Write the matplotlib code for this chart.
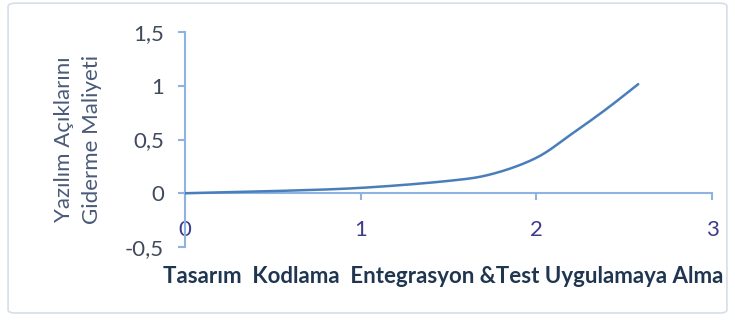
import matplotlib
matplotlib.use('Agg')
import matplotlib.pyplot as plt
from matplotlib.patches import FancyBboxPatch
from matplotlib.ticker import FuncFormatter
import numpy as np

# veri
x = [0, 0.5, 1, 1.5, 1.75, 2, 2.2, 2.4, 2.58]
y = [0, 0.02, 0.05, 0.115, 0.18, 0.33, 0.55, 0.785, 1.015]
xticks = [0, 1, 2, 3]
yticks = [-0.5, 0, 0.5, 1, 1.5]
ylabel = 'Yazılım Açıklarını\nGiderme Maliyeti'
xlabel = 'Tasarım  Kodlama  Entegrasyon &Test Uygulamaya Alma'

plt.rcParams['font.family'] = ['Lato', 'DejaVu Sans']

eksen = '#8DB3E2'

fig = plt.figure(figsize=(7.35, 3.21), dpi=100)
fig.patch.set_facecolor('white')
cerceve = FancyBboxPatch((0.011, 0.025), 0.978, 0.965, boxstyle='round,pad=0,rounding_size=0.01',
                         transform=fig.transFigure, fc='none', ec='#D5DEEA', lw=1.2, zorder=0)
fig.patches.append(cerceve)

ax = fig.add_axes([0.2517, 0.2305, 0.7170, 0.6698])
ax.set_facecolor('none')

# Excel tarzi yumusak egri (Catmull-Rom)
xs, ys = [], []
px = [x[0]] + x + [x[-1]]
py = [y[0]] + y + [y[-1]]
t = np.linspace(0, 1, 30)
for i in range(1, len(px) - 2):
    p0, p1, p2, p3 = [np.array([px[j], py[j]]) for j in range(i - 1, i + 3)]
    seg = 0.5 * ((2 * p1) + (-p0 + p2) * t[:, None] + (2 * p0 - 5 * p1 + 4 * p2 - p3) * t[:, None] ** 2
                 + (-p0 + 3 * p1 - 3 * p2 + p3) * t[:, None] ** 3)
    xs.extend(seg[:, 0]); ys.extend(seg[:, 1])
ax.plot(xs, ys, color='#4A7EBB', lw=1.8, solid_capstyle='round', zorder=3)

ax.set_xlim(0, 3)
ax.set_ylim(-0.5, 1.5)
ax.spines['top'].set_visible(False)
ax.spines['right'].set_visible(False)
ax.spines['bottom'].set_position(('data', 0))
ax.spines['left'].set_position(('data', 0))
for s in ['bottom', 'left']:
    ax.spines[s].set_color(eksen)
    ax.spines[s].set_linewidth(1.5)

ax.set_xticks(xticks)
ax.set_yticks(yticks)
fmt = FuncFormatter(lambda v, p: ('%g' % v).replace('.', ','))
ax.yaxis.set_major_formatter(fmt)
ax.xaxis.set_major_formatter(fmt)
ax.tick_params(axis='x', direction='out', length=5, width=1.5, color=eksen,
               labelsize=16, labelcolor='#3C3C8C', pad=14)
ax.tick_params(axis='y', direction='out', length=5, width=1.5, color=eksen,
               labelsize=16, labelcolor='#404A5C', pad=10)

fig.text(0.106, 0.565, ylabel, rotation=90, ha='center', va='center',
         fontsize=16, color='#4A5A78', linespacing=1.55)
fig.text(0.603, 0.14, xlabel, ha='center', va='center', fontsize=16,
         fontweight='bold', color='#1F3550')

fig.savefig('out.png', dpi=100)
